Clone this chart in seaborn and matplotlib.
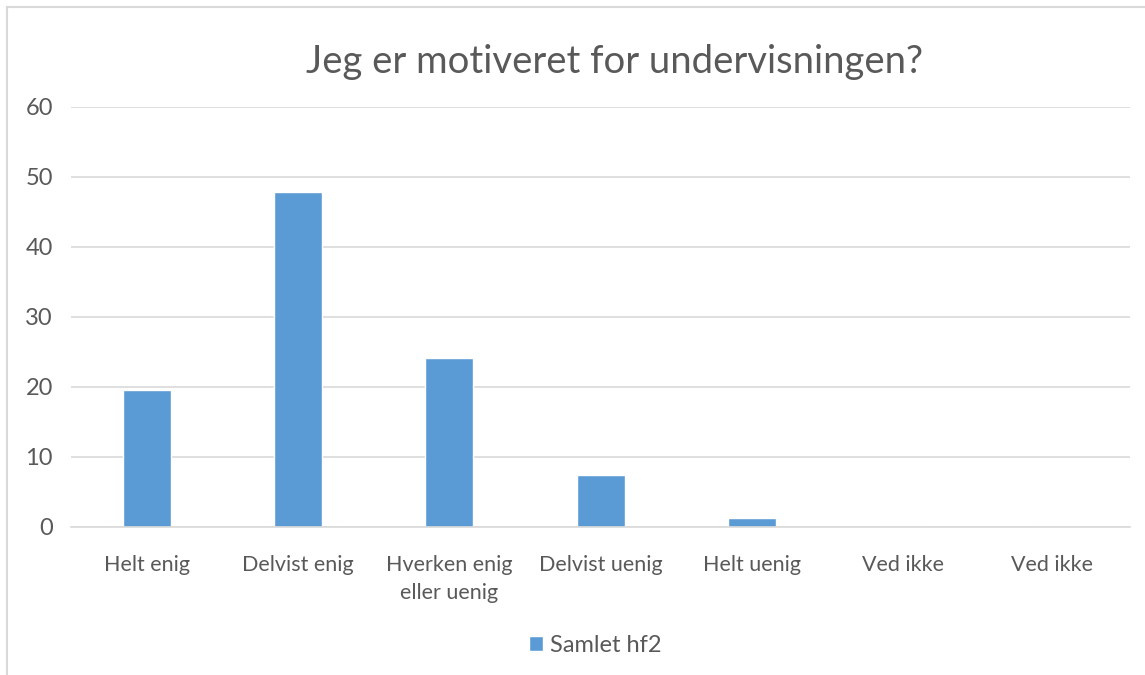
import numpy as np
import pandas as pd
import matplotlib
matplotlib.use("Agg")
import matplotlib.pyplot as plt
import seaborn as sns
from matplotlib.patches import Rectangle, Patch

categories = ["Helt enig", "Delvist enig", "Hverken enig\neller uenig", "Delvist uenig",
              "Helt uenig", "Ved ikke", "Ved ikke "]
values = [19.5, 47.8, 24.2, 7.4, 1.3, 0, 0]
series_name = "Samlet hf2"
y_ticks = [0, 10, 20, 30, 40, 50, 60]

BAR_COLOR = "#5B9BD5"
TEXT_COLOR = "#595959"
GRID_COLOR = "#D9D9D9"

sns.set_style("white")
plt.rcParams["font.family"] = ["Lato", "DejaVu Sans"]

df = pd.DataFrame({"category": categories, "value": values})

fig = plt.figure(figsize=(11.45, 6.75), dpi=100)
ax = fig.add_axes([0.062, 0.2193, 0.925, 0.6222])

sns.barplot(data=df, x="category", y="value", color=BAR_COLOR, saturation=1,
            width=0.317, ax=ax)

ax.set_ylim(0, 60)
ax.set_xlim(-0.5, len(categories) - 0.5)
ax.set_yticks(y_ticks)
ax.set_yticklabels([str(t) for t in y_ticks], fontsize=17, color=TEXT_COLOR)
ax.set_xticks(range(len(categories)))
ax.set_xticklabels(categories, fontsize=15.5, color=TEXT_COLOR, linespacing=1.5)
ax.tick_params(axis="both", length=0)
ax.tick_params(axis="x", pad=20)
ax.tick_params(axis="y", pad=13)
ax.set_xlabel("")
ax.set_ylabel("")
ax.yaxis.grid(True, color=GRID_COLOR, linewidth=1.2)
ax.set_axisbelow(True)
for side in ["top", "right", "left"]:
    ax.spines[side].set_visible(False)
ax.spines["bottom"].set_color(GRID_COLOR)
ax.spines["bottom"].set_linewidth(1.2)

fig.text(614 / 1145, 1 - 62 / 675, "Jeg er motiveret for undervisningen?",
         ha="center", va="center", fontsize=27.5, color=TEXT_COLOR)

fig.legend(handles=[Patch(facecolor=BAR_COLOR, label=series_name)],
           loc="center", bbox_to_anchor=(595 / 1145, 1 - 645 / 675),
           frameon=False, fontsize=17, labelcolor=TEXT_COLOR,
           handlelength=0.6, handleheight=0.6, handletextpad=0.3)

# chart frame (cut at the right and bottom edges)
fig.patches.append(Rectangle((7 / 1145, -0.05), 1.1, 1 - 7 / 675 + 0.05,
                             transform=fig.transFigure, fill=False,
                             edgecolor=GRID_COLOR, linewidth=1.5))

fig.savefig("out.png", dpi=100)
